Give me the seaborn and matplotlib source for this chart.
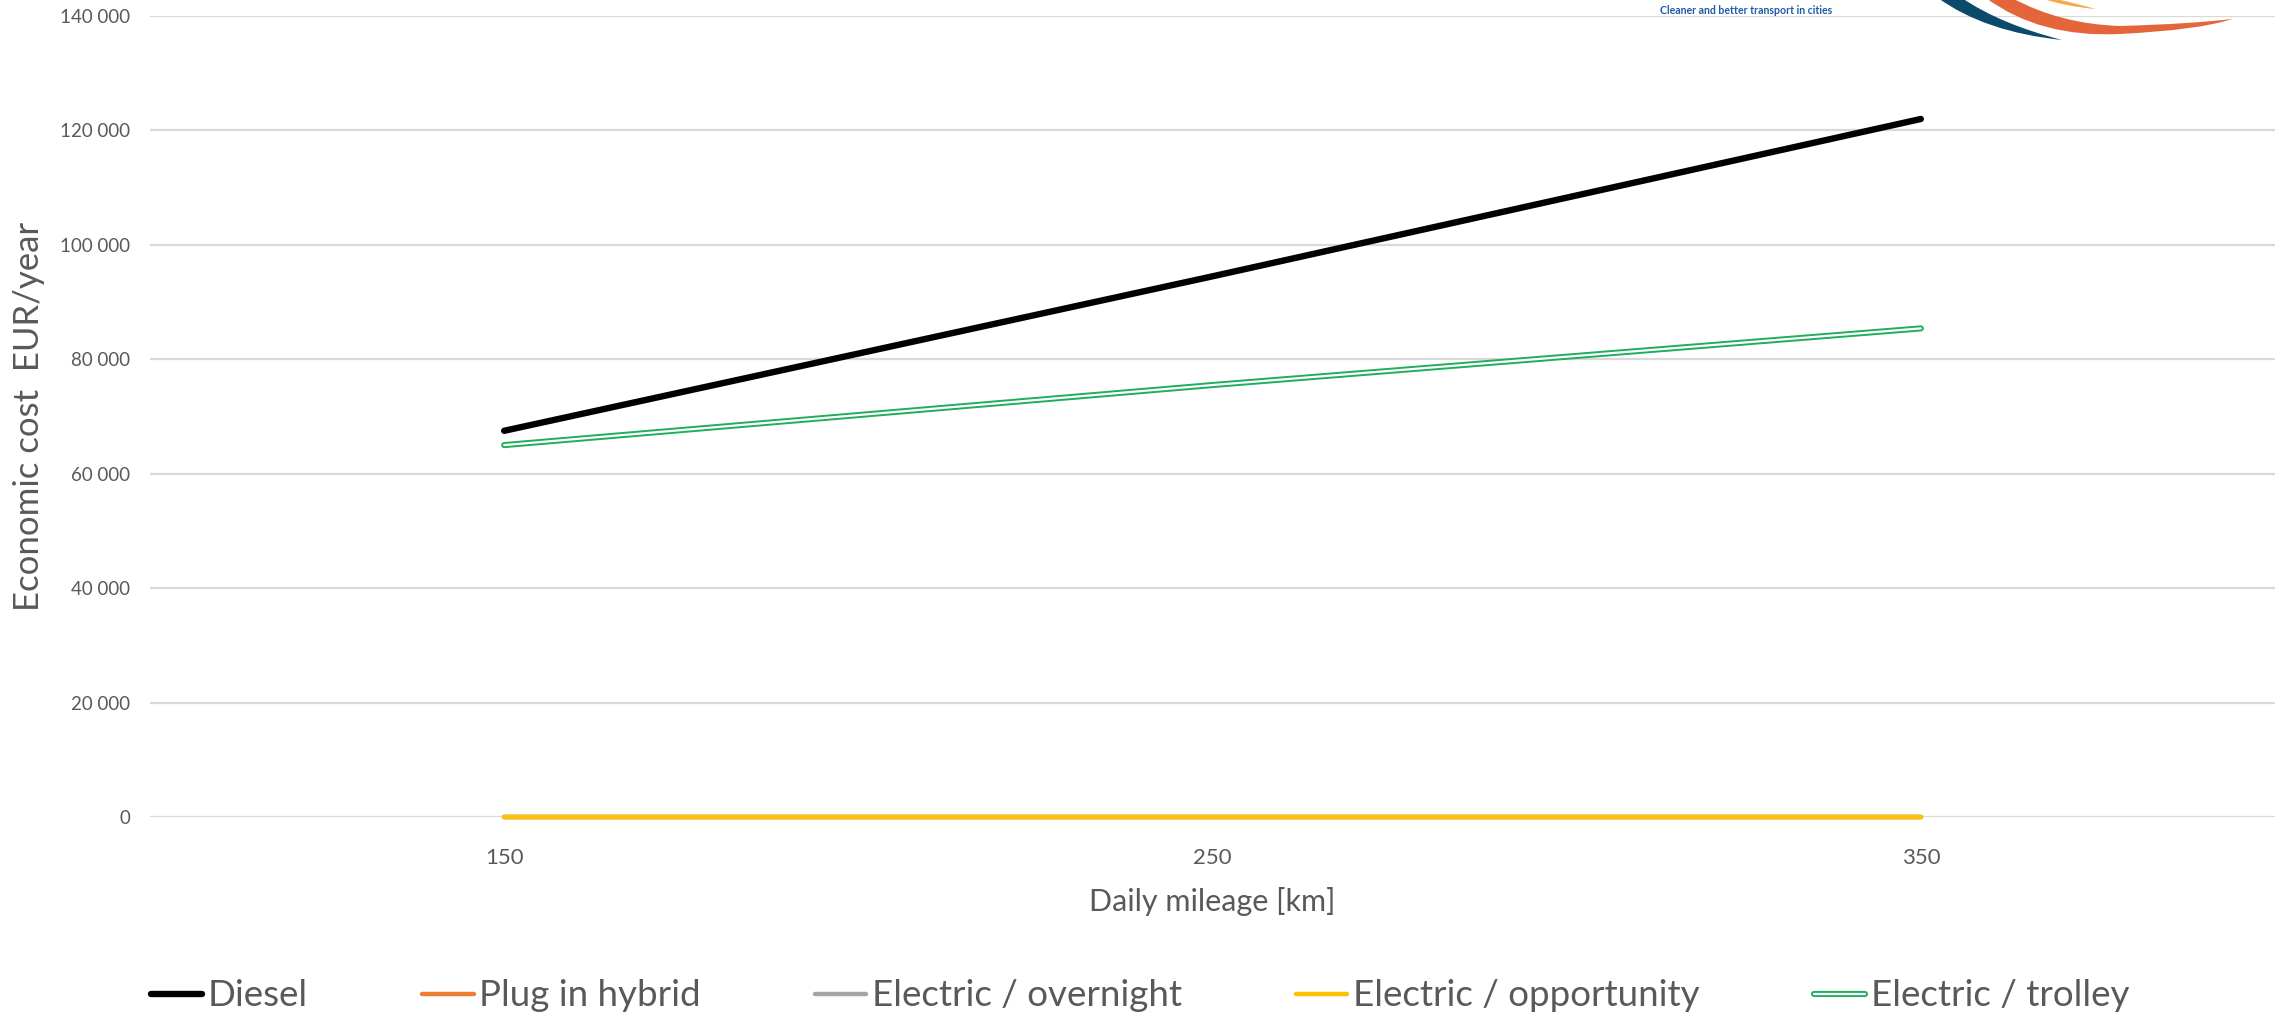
import matplotlib
matplotlib.use("Agg")
import matplotlib.pyplot as plt
import matplotlib.patheffects as pe
from matplotlib.path import Path
from matplotlib.patches import PathPatch
import seaborn as sns
import pandas as pd

# Daily mileage categories (km)
mileage = [150, 250, 350]

# Annual economic cost per bus technology (EUR/year)
diesel = [67500, 94500, 122000]
plug_in_hybrid = [0, 0, 0]
electric_overnight = [0, 0, 0]
electric_opportunity = [0, 0, 0]
electric_trolley = [65000, 75500, 85400]

series_names = ["Diesel", "Plug in hybrid", "Electric / overnight",
                "Electric / opportunity", "Electric / trolley"]
series_values = [diesel, plug_in_hybrid, electric_overnight,
                 electric_opportunity, electric_trolley]
series_colors = ["#000000", "#ED7D31", "#A5A5A5", "#FFC000", "#1FAE5B"]
series_widths = [4.6, 3.2, 3.2, 3.2, 4.4]

y_ticks = [0, 20000, 40000, 60000, 80000, 100000, 120000, 140000]
y_tick_labels = ["0", "20 000", "40 000", "60 000", "80 000",
                 "100 000", "120 000", "140 000"]
x_label = "Daily mileage [km]"
y_label = "Economic cost  EUR/year"

sns.set_theme(style="white")
plt.rcParams["font.family"] = ["Lato", "DejaVu Sans"]

W, H = 2280, 1017
fig = plt.figure(figsize=(W / 100, H / 100), dpi=100)
ax = fig.add_axes([150 / W, 1 - 817 / H, 2125 / W, 801 / H])

text_grey = "#595959"
grid_grey = "#D9D9D9"

frames = []
for name, vals in zip(series_names, series_values):
    frames.append(pd.DataFrame({"mileage": mileage, "cost": vals, "series": name}))
df = pd.concat(frames, ignore_index=True)

for name, color, lw in zip(series_names, series_colors, series_widths):
    sub = df[df["series"] == name]
    sns.lineplot(data=sub, x="mileage", y="cost", ax=ax, color=color,
                 linewidth=lw, label=name, solid_capstyle="round",
                 solid_joinstyle="round", zorder=3, clip_on=False)

# Trolley line drawn as a hollow (double) stroke
trolley_line = ax.get_lines()[-1]
trolley_line.set_linewidth(4.4)
trolley_line.set_path_effects([
    pe.Stroke(linewidth=4.4, foreground="#1FAE5B"),
    pe.Stroke(linewidth=1.6, foreground="white"),
])

ax.set_xlim(100, 400)
ax.set_ylim(0, 140000)
ax.set_xticks(mileage)
ax.set_xticklabels([str(m) for m in mileage])
ax.set_yticks(y_ticks)
ax.set_yticklabels(y_tick_labels)
ax.tick_params(axis="x", length=0, pad=22, labelsize=16, labelcolor=text_grey)
ax.tick_params(axis="y", length=0, pad=14, labelsize=13.5, labelcolor=text_grey)
ax.yaxis.grid(True, color=grid_grey, linewidth=1.6)
ax.xaxis.grid(False)
for s in ax.spines.values():
    s.set_visible(False)
ax.set_axisbelow(True)

ax.set_xlabel(x_label, fontsize=22, color=text_grey)
ax.xaxis.set_label_coords(0.5, (817 - 901) / 801)
ax.xaxis.label.set_va("center")
ax.set_ylabel(y_label, fontsize=25, color=text_grey)
ax.yaxis.set_label_coords((29 - 150) / 2125, 0.5)
ax.yaxis.label.set_va("center")

handles, labels = ax.get_legend_handles_labels()
ax.get_legend().remove()
leg = fig.legend(handles, labels, loc="center", bbox_to_anchor=(0.5, 1 - 996 / H),
                 ncol=5, frameon=False, fontsize=26.5, handlelength=1.4,
                 handletextpad=0.15, columnspacing=3.1, labelcolor=text_grey)
for h in leg.legend_handles:
    h.set_solid_capstyle("round")


# Partially visible logo in the upper right corner
def px(x, y):
    return (x / W, 1 - y / H)


def swoosh(outer, inner, color):
    verts = [px(*p) for p in outer] + [px(*p) for p in inner[::-1]] + [px(*outer[0])]
    codes = ([Path.MOVETO] + [Path.CURVE3] * (len(outer) - 1)
             + [Path.LINETO] + [Path.CURVE3] * (len(inner) - 1) + [Path.CLOSEPOLY])
    fig.patches.append(PathPatch(Path(verts, codes), facecolor=color, edgecolor="none",
                                 transform=fig.transFigure, figure=fig, zorder=5))


swoosh([(1938, -2), (1985, 32), (2062, 40)], [(1962, -2), (2000, 24), (2062, 40)], "#0B4A6B")
swoosh([(1986, -2), (2040, 38), (2120, 34), (2200, 30), (2232, 19)],
       [(2012, -2), (2060, 24), (2120, 26), (2190, 24), (2232, 19)], "#E4653A")
swoosh([(2040, -2), (2068, 7), (2096, 9)], [(2052, -2), (2074, 3), (2096, 9)], "#F4A94B")

fig.text(1660 / W, 1 - 10 / H, "Cleaner and better transport in cities", fontsize=7.6,
         color="#1E5BA8", fontweight="bold", va="center", ha="left")

fig.savefig("out.png", dpi=100, facecolor="white")
